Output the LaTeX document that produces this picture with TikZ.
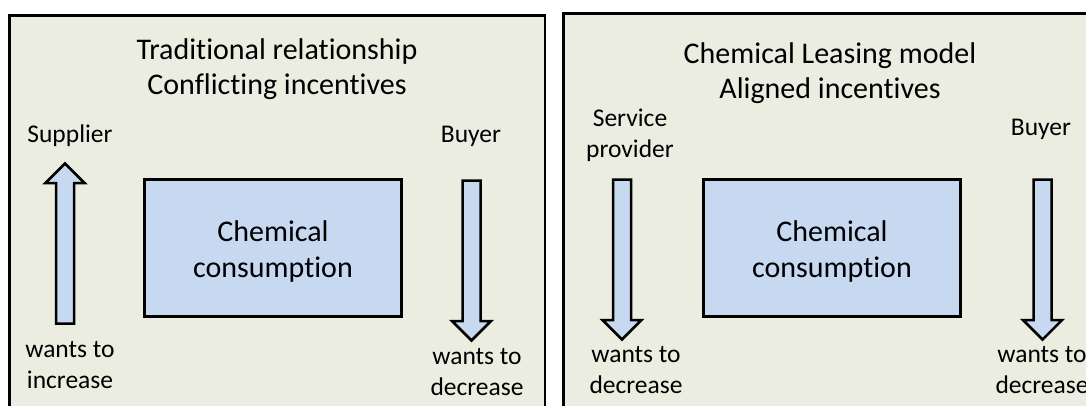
\documentclass[tikz,border=0pt]{standalone}
\usepackage{fontspec}
\setmainfont[Ligatures=NoCommon]{Carlito}
\usetikzlibrary{shapes.arrows}

\definecolor{panelbg}{RGB}{235,237,224}
\definecolor{chemblue}{RGB}{198,217,241}

\tikzset{
  panel/.style={fill=panelbg, draw=black, line width=2.8pt},
  chembox/.style={draw=black, fill=chemblue, line width=2.5pt, minimum width=257pt, minimum height=137pt},
  chemtext/.style={align=center, inner sep=0pt, font=\fontsize{30}{36}\selectfont},
  fatarrow/.style={single arrow, draw=black, fill=chemblue, line width=2.5pt, minimum width=36pt, single arrow head extend=10.5pt, inner xsep=0pt, inner ysep=7.75pt, minimum height=160pt, anchor=tail},
  headtext/.style={align=center, inner sep=0pt, font=\fontsize{30}{35}\selectfont},
  roletext/.style={align=center, inner sep=0pt, font=\fontsize{25.5}{31}\selectfont},
}

\begin{document}
\begin{tikzpicture}[x=1pt, y=-1pt]
    \useasboundingbox (0,0) rectangle (1086,405);
    \clip (0,0) rectangle (1086,405);

    % two panels
    \draw[panel] (9.5,15.5) rectangle (545,440);
    \draw[panel] (563.5,13.5) rectangle (1100,440);

    % traditional relationship
    \node[headtext] (tradtitle) at (277,69.5) {Traditional relationship\\Conflicting incentives};
    \node[roletext, anchor=base] (supplier) at (70,142) {Supplier};
    \node[roletext, anchor=base] (buyerA) at (471,142) {Buyer};
    \node[chembox] (chemA) at (273,248) {};
    \node[chemtext] (chemAtxt) at ([yshift=-3.5pt]chemA.center) {Chemical\\consumption};
    \node[fatarrow, rotate=90] (supup) at (65,324.75) {};
    \node[fatarrow, rotate=-90] (buydownA) at (471.5,179.25) {};
    \node[roletext] (incr) at (70,365) {wants to\\increase};
    \node[roletext] (decrA) at (477,372.5) {wants to\\decrease};

    % chemical leasing
    \node[headtext] (leasetitle) at (830,73) {Chemical Leasing model\\Aligned incentives};
    \node[roletext] (provider) at (630,135) {Service\\provider};
    \node[roletext, anchor=base] (buyerB) at (1041,135) {Buyer};
    \node[chembox] (chemB) at (832,248) {};
    \node[chemtext] (chemBtxt) at ([yshift=-3.5pt]chemB.center) {Chemical\\consumption};
    \node[fatarrow, rotate=-90] (provdown) at (622,178.25) {};
    \node[fatarrow, rotate=-90] (buydownB) at (1042.5,178.25) {};
    \node[roletext] (decrB) at (636,370.5) {wants to\\decrease};
    \node[roletext] (decrC) at (1042,370.5) {wants to\\decrease};
\end{tikzpicture}
\end{document}
